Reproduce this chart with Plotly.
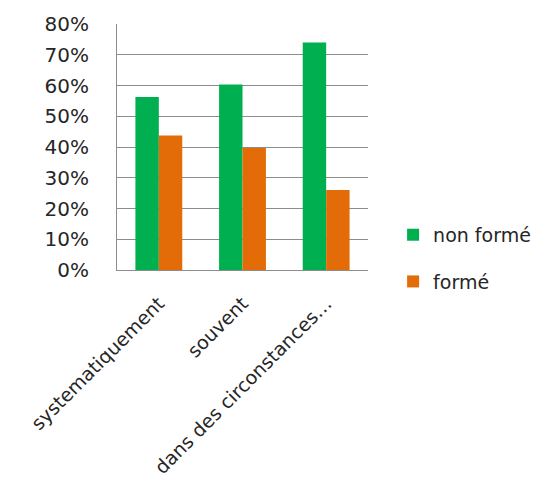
import plotly.graph_objects as go

categories = ["systematiquement", "souvent", "dans des circonstances…"]
non_forme = [0.563, 0.603, 0.74]
forme = [0.437, 0.397, 0.26]
series_names = ["non formé", "formé"]
y_ticks = [0, 0.1, 0.2, 0.3, 0.4, 0.5, 0.6, 0.7, 0.8]

FONT = "DejaVu Sans"
TXT = "#262626"

fig = go.Figure()
fig.add_trace(go.Bar(x=categories, y=non_forme, name=series_names[0],
                     marker=dict(color="#00B050", line=dict(width=0)),
                     legendgroup="a"))
fig.add_trace(go.Bar(x=categories, y=forme, name=series_names[1],
                     marker=dict(color="#E36C09", line=dict(width=0)),
                     legendgroup="b"))

fig.update_layout(
    width=539, height=478,
    margin=dict(l=109, r=179, t=16, b=216, pad=0, autoexpand=False),
    paper_bgcolor="white", plot_bgcolor="white",
    barmode="group", bargap=0.44, bargroupgap=0,
    font=dict(family=FONT, size=20, color=TXT),
    showlegend=True,
    legend=dict(x=1.10, y=0.22, xanchor="left", yanchor="top",
                font=dict(family=FONT, size=19, color=TXT),
                traceorder="grouped", tracegroupgap=19,
                bgcolor="rgba(0,0,0,0)"),
    xaxis=dict(tickangle=-45, showline=True, linecolor="#8c8c8c", linewidth=1,
               showgrid=False, ticks="", ticklabelstandoff=14, automargin=False,
               tickfont=dict(family=FONT, size=19, color=TXT)),
    yaxis=dict(range=[0, 0.8], tickvals=y_ticks, tickformat=".0%",
               showline=True, linecolor="#8c8c8c", linewidth=1,
               showgrid=True, gridcolor="#8c8c8c", gridwidth=1,
               zeroline=False, ticks="", ticklabelstandoff=23, automargin=False,
               tickfont=dict(family=FONT, size=20, color=TXT)),
)

fig.write_html("out.html")
